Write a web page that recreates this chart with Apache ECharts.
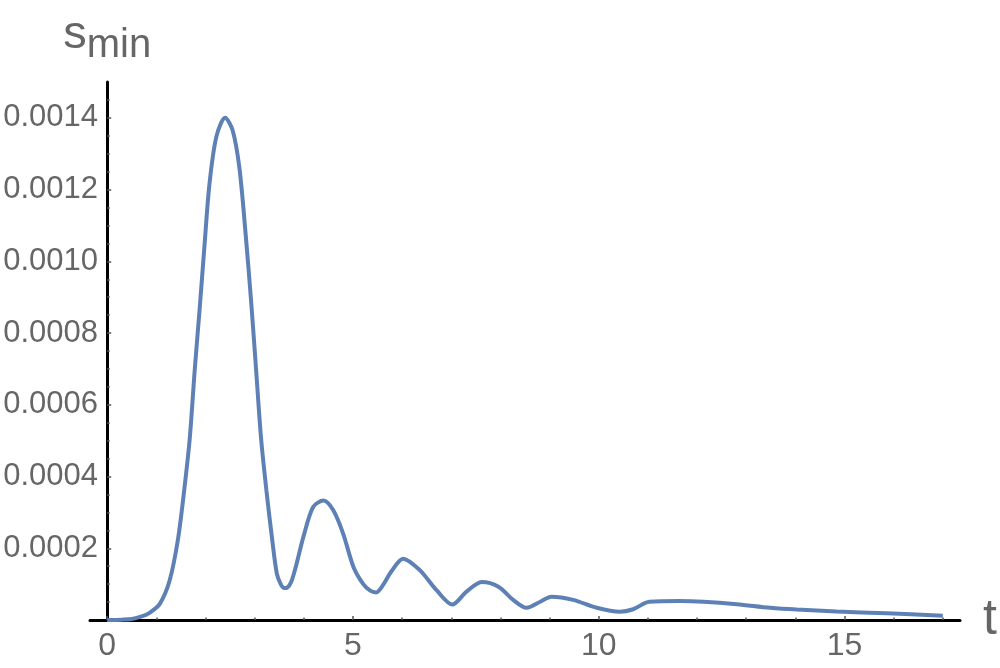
<!DOCTYPE html>
<html>
<head>
<meta charset="utf-8">
<script src="https://cdn.jsdelivr.net/npm/echarts@6/dist/echarts.min.js"></script>
<style>
    html, body { margin: 0; background: #fff; }
    #chart { width: 1000px; height: 668px; }
</style>
</head>
<body>
<div id="chart"></div>
<script>
// curve
const tValues = [0, 0.3, 0.5, 0.7, 0.86, 1.07, 1.27, 1.44, 1.57, 1.68, 1.78, 1.88, 1.98, 2.08, 2.22, 2.4,
    2.55, 2.69, 2.82, 2.93, 3.03, 3.13, 3.24, 3.36, 3.45, 3.53, 3.6, 3.66, 3.74, 3.84, 3.99, 4.19, 4.4,
    4.6, 4.8, 5.01, 5.21, 5.35, 5.47, 5.6, 5.78, 6.02, 6.36, 6.7, 7.02, 7.31, 7.62, 7.96, 8.26, 8.53,
    8.81, 9.04, 9.48, 9.96, 10.43, 10.7, 11.03, 11.65, 12.13, 12.81, 13.49, 14.03, 14.84, 15.86, 17.0];
const sValues = [0, 0.000001, 0.000003, 0.00001, 0.00002, 0.000045, 0.00011, 0.000225, 0.000366, 0.000507,
    0.000696, 0.000866, 0.001045, 0.001215, 0.001347, 0.0014, 0.001366, 0.00126, 0.00107, 0.000885,
    0.000696, 0.000507, 0.00036, 0.00022, 0.00013, 0.0001, 0.000089, 0.00009, 0.000105, 0.00015,
    0.000231, 0.000315, 0.000333, 0.000306, 0.000241, 0.000148, 0.0001, 0.000082, 0.000077, 0.000095,
    0.000135, 0.000171, 0.000139, 0.000083, 0.000043, 0.000079, 0.000106, 0.000093, 0.000056, 0.000034,
    0.000051, 0.000065, 0.000056, 0.000034, 0.000023, 0.00003, 0.000051, 0.000053, 0.000051, 0.000044,
    0.000034, 0.000029, 0.000024, 0.0000185, 0.000012];

const xMajorTicks = [0, 5, 10, 15];
const xMinorTicks = [1, 2, 3, 4, 6, 7, 8, 9, 11, 12, 13, 14, 16, 17];
const yMajorTicks = [0.0002, 0.0004, 0.0006, 0.0008, 0.001, 0.0012, 0.0014];
const yMinorTicks = [0.00005, 0.0001, 0.00015, 0.00025, 0.0003, 0.00035, 0.00045, 0.0005, 0.00055,
    0.00065, 0.0007, 0.00075, 0.00085, 0.0009, 0.00095, 0.00105, 0.0011, 0.00115, 0.00125, 0.0013,
    0.00135, 0.00145];

const font = "'Liberation Sans', Arial, sans-serif";
const textGray = "#666666";

const chart = echarts.init(document.getElementById("chart"));
chart.setOption({
    animation: false,
    grid: { left: 90, right: 40, top: 82, bottom: 48, outerBoundsMode: "none", containLabel: false },
    xAxis: [
        {
            type: "value",
            min: -0.35,
            max: 17.35,
            name: "t",
            nameLocation: "end",
            nameGap: 23,
            nameTextStyle: { fontFamily: font, fontSize: 50, color: textGray, verticalAlign: "middle" },
            axisLine: { onZero: true, lineStyle: { color: "#000", width: 3 } },
            axisTick: { inside: true, length: 4, customValues: xMajorTicks, lineStyle: { color: "#555", width: 1.5 } },
            axisLabel: { customValues: xMajorTicks, margin: 10, fontFamily: font, fontSize: 32, color: textGray },
            splitLine: { show: false },
        },
        {
            type: "value",
            position: "bottom",
            min: -0.35,
            max: 17.35,
            axisLine: { show: false, onZero: true, onZeroAxisIndex: 0 },
            axisTick: { inside: true, length: 2.5, customValues: xMinorTicks, lineStyle: { color: "#555", width: 1.5 } },
            axisLabel: { show: false },
            splitLine: { show: false },
        },
    ],
    yAxis: [
        {
            type: "value",
            min: 0,
            max: 0.0015,
            name: "{s|s}{m|min}",
            nameLocation: "end",
            nameGap: 14,
            nameTextStyle: {
                rich: {
                    s: { fontFamily: font, fontSize: 47, color: textGray, verticalAlign: "bottom", padding: [0, 0, 9, 0] },
                    m: { fontFamily: font, fontSize: 40, color: textGray, verticalAlign: "bottom", padding: [0, 0, 2, 0] },
                },
            },
            axisLine: { onZero: true, onZeroAxisIndex: 0, lineStyle: { color: "#000", width: 3 } },
            axisTick: { inside: true, length: 4, customValues: yMajorTicks, lineStyle: { color: "#555", width: 1.5 } },
            axisLabel: {
                customValues: yMajorTicks,
                margin: -8,
                fontFamily: font,
                fontSize: 31,
                color: textGray,
                formatter: (v) => v.toFixed(4),
            },
            splitLine: { show: false },
        },
        {
            type: "value",
            position: "left",
            min: 0,
            max: 0.0015,
            axisLine: { show: false, onZero: true, onZeroAxisIndex: 0 },
            axisTick: { inside: true, length: 2.5, customValues: yMinorTicks, lineStyle: { color: "#555", width: 1.5 } },
            axisLabel: { show: false },
            splitLine: { show: false },
        },
    ],
    series: [
        {
            type: "line",
            data: tValues.map((t, i) => [t, sValues[i]]),
            showSymbol: false,
            smooth: 0.3,
            lineStyle: { color: "#5E81B5", width: 4 },
        },
    ],
});
</script>
</body>
</html>
